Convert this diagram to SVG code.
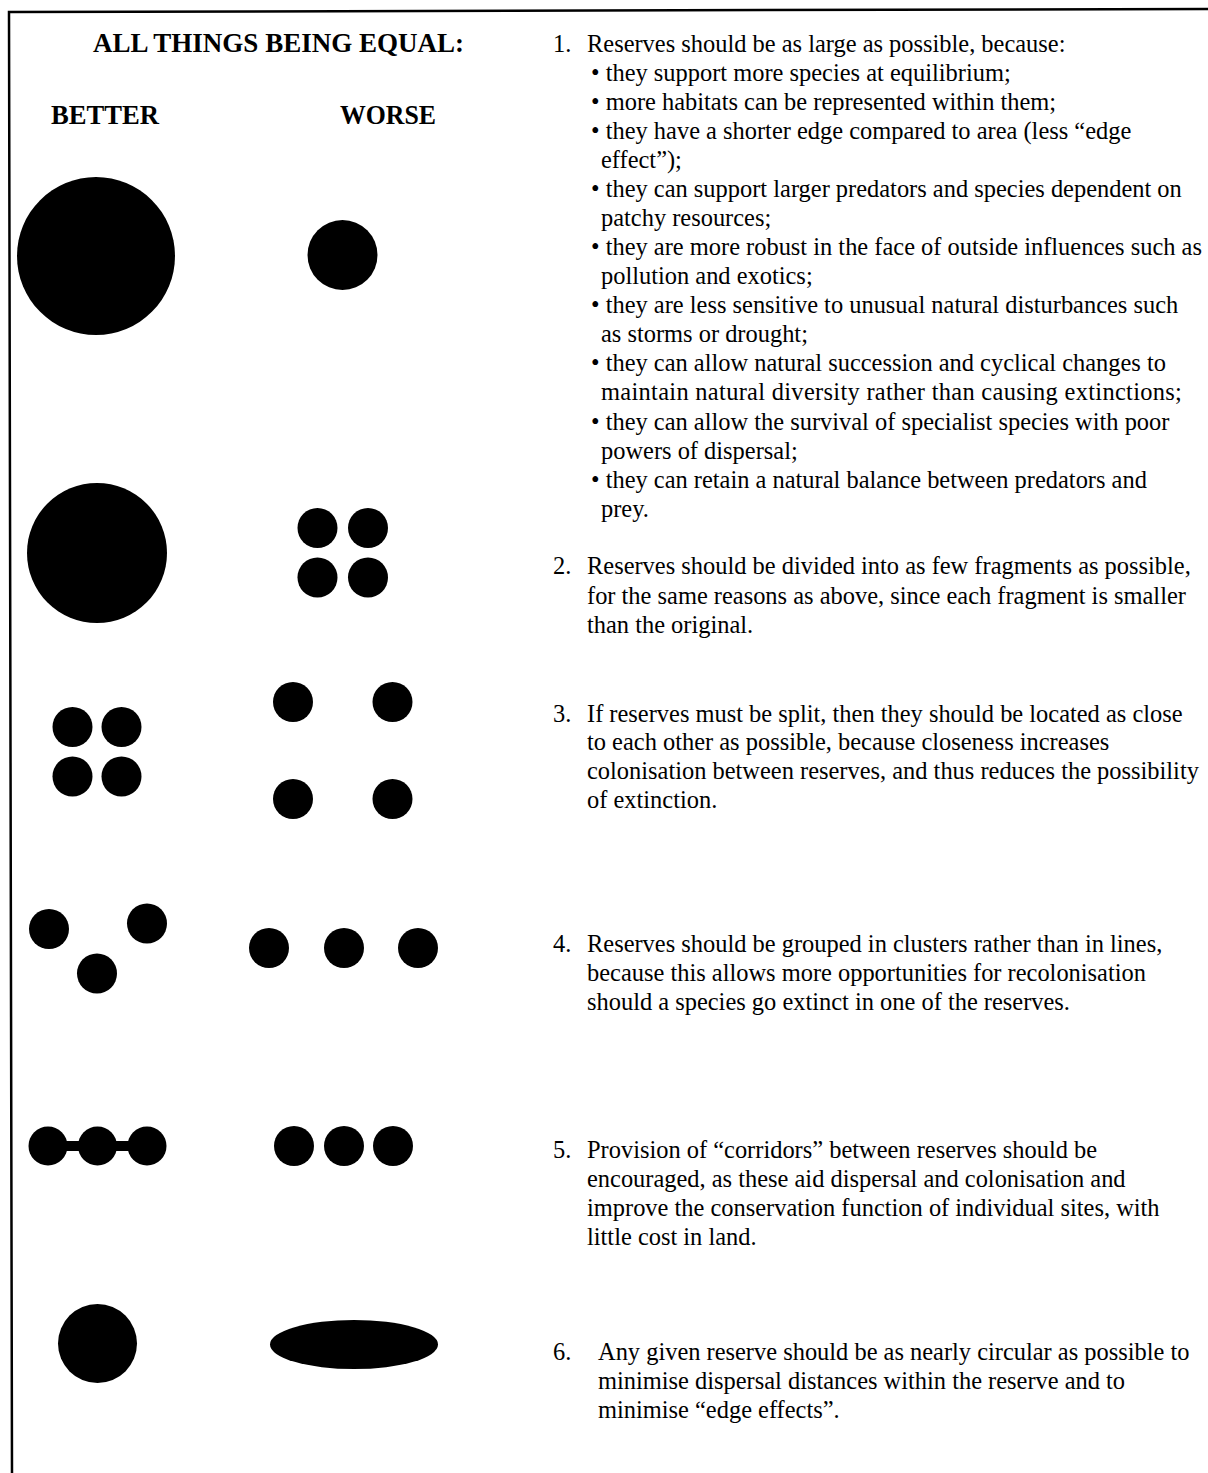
<svg xmlns="http://www.w3.org/2000/svg" width="1208" height="1473" viewBox="0 0 1208 1473">
<style>
.h{font-family:"Liberation Serif","Times New Roman",serif;font-weight:bold;font-size:27px;fill:#000}
.t{font-family:"Liberation Serif","Times New Roman",serif;font-size:26px;fill:#000}
.d{fill:#000}
</style>
<rect width="1208" height="1473" fill="#fff"/>
<path d="M12 1473 L9 12 L1208 9" fill="none" stroke="#000" stroke-width="2.5"/>
<g id="headings">
<text class="h" x="93" y="52" textLength="371" lengthAdjust="spacingAndGlyphs">ALL THINGS BEING EQUAL:</text>
<text class="h" x="51" y="124" textLength="108" lengthAdjust="spacingAndGlyphs">BETTER</text>
<text class="h" x="340" y="124" textLength="96" lengthAdjust="spacingAndGlyphs">WORSE</text>
</g>
<g id="row1">
<circle class="d" cx="96" cy="256" r="79"/>
<circle class="d" cx="342.5" cy="255" r="35"/>
</g>
<g id="row2">
<circle class="d" cx="97" cy="553" r="70"/>
<circle class="d" cx="317.5" cy="528" r="20"/>
<circle class="d" cx="368" cy="528" r="20"/>
<circle class="d" cx="317.5" cy="577.5" r="20"/>
<circle class="d" cx="368" cy="577.5" r="20"/>
</g>
<g id="row3">
<circle class="d" cx="72.5" cy="727" r="20"/>
<circle class="d" cx="121.5" cy="727" r="20"/>
<circle class="d" cx="72.5" cy="776.5" r="20"/>
<circle class="d" cx="121.5" cy="776.5" r="20"/>
<circle class="d" cx="293" cy="702" r="20"/>
<circle class="d" cx="392.5" cy="702" r="20"/>
<circle class="d" cx="293" cy="799" r="20"/>
<circle class="d" cx="392.5" cy="799" r="20"/>
</g>
<g id="row4">
<circle class="d" cx="49" cy="929" r="20"/>
<circle class="d" cx="147" cy="923.5" r="20"/>
<circle class="d" cx="97" cy="973.5" r="20"/>
<circle class="d" cx="269" cy="948" r="20"/>
<circle class="d" cx="344" cy="948" r="20"/>
<circle class="d" cx="418" cy="948" r="20"/>
</g>
<g id="row5">
<rect class="d" x="48" y="1141" width="99" height="10"/>
<circle class="d" cx="48" cy="1146" r="19.5"/>
<circle class="d" cx="97.5" cy="1146" r="19.5"/>
<circle class="d" cx="147" cy="1146" r="19.5"/>
<circle class="d" cx="294" cy="1146" r="20"/>
<circle class="d" cx="344" cy="1146" r="20"/>
<circle class="d" cx="393" cy="1146" r="20"/>
</g>
<g id="row6">
<circle class="d" cx="97.5" cy="1343.5" r="39.5"/>
<ellipse class="d" cx="354" cy="1344.5" rx="84" ry="24.5"/>
</g>
<g id="texts" transform="matrix(0.94,0,0,1,35.22,0)">
<g id="item1">
<text class="t" x="550.8" y="52">1.</text>
<text class="t" x="587" y="52">Reserves should be as large as possible, because:</text>
<text class="t" x="591.3" y="81">• they support more species at equilibrium;</text>
<text class="t" x="591.3" y="110">• more habitats can be represented within them;</text>
<text class="t" x="591.3" y="139">• they have a shorter edge compared to area (less “edge</text>
<text class="t" x="601.9" y="168">effect”);</text>
<text class="t" x="591.3" y="197">• they can support larger predators and species dependent on</text>
<text class="t" x="601.9" y="226">patchy resources;</text>
<text class="t" x="591.3" y="255">• they are more robust in the face of outside influences such as</text>
<text class="t" x="601.9" y="284">pollution and exotics;</text>
<text class="t" x="591.3" y="313">• they are less sensitive to unusual natural disturbances such</text>
<text class="t" x="601.9" y="342">as storms or drought;</text>
<text class="t" x="591.3" y="371">• they can allow natural succession and cyclical changes to</text>
<text class="t" x="601.9" y="400" textLength="618" lengthAdjust="spacing">maintain natural diversity rather than causing extinctions;</text>
<text class="t" x="591.3" y="430">• they can allow the survival of specialist species with poor</text>
<text class="t" x="601.9" y="459">powers of dispersal;</text>
<text class="t" x="591.3" y="488">• they can retain a natural balance between predators and</text>
<text class="t" x="601.9" y="517">prey.</text>
</g>
<g id="item2">
<text class="t" x="550.8" y="574">2.</text>
<text class="t" x="587" y="574">Reserves should be divided into as few fragments as possible,</text>
<text class="t" x="587" y="604">for the same reasons as above, since each fragment is smaller</text>
<text class="t" x="587" y="633">than the original.</text>
</g>
<g id="item3">
<text class="t" x="550.8" y="722">3.</text>
<text class="t" x="587" y="722">If reserves must be split, then they should be located as close</text>
<text class="t" x="587" y="750">to each other as possible, because closeness increases</text>
<text class="t" x="587" y="779">colonisation between reserves, and thus reduces the possibility</text>
<text class="t" x="587" y="808">of extinction.</text>
</g>
<g id="item4">
<text class="t" x="550.8" y="952">4.</text>
<text class="t" x="587" y="952">Reserves should be grouped in clusters rather than in lines,</text>
<text class="t" x="587" y="981">because this allows more opportunities for recolonisation</text>
<text class="t" x="587" y="1010">should a species go extinct in one of the reserves.</text>
</g>
<g id="item5">
<text class="t" x="550.8" y="1158">5.</text>
<text class="t" x="587" y="1158">Provision of “corridors” between reserves should be</text>
<text class="t" x="587" y="1187">encouraged, as these aid dispersal and colonisation and</text>
<text class="t" x="587" y="1216">improve the conservation function of individual sites, with</text>
<text class="t" x="587" y="1245">little cost in land.</text>
</g>
<g id="item6">
<text class="t" x="550.8" y="1360">6.</text>
<text class="t" x="598.7" y="1360">Any given reserve should be as nearly circular as possible to</text>
<text class="t" x="598.7" y="1389">minimise dispersal distances within the reserve and to</text>
<text class="t" x="598.7" y="1418">minimise “edge effects”.</text>
</g>
</g>
</svg>
